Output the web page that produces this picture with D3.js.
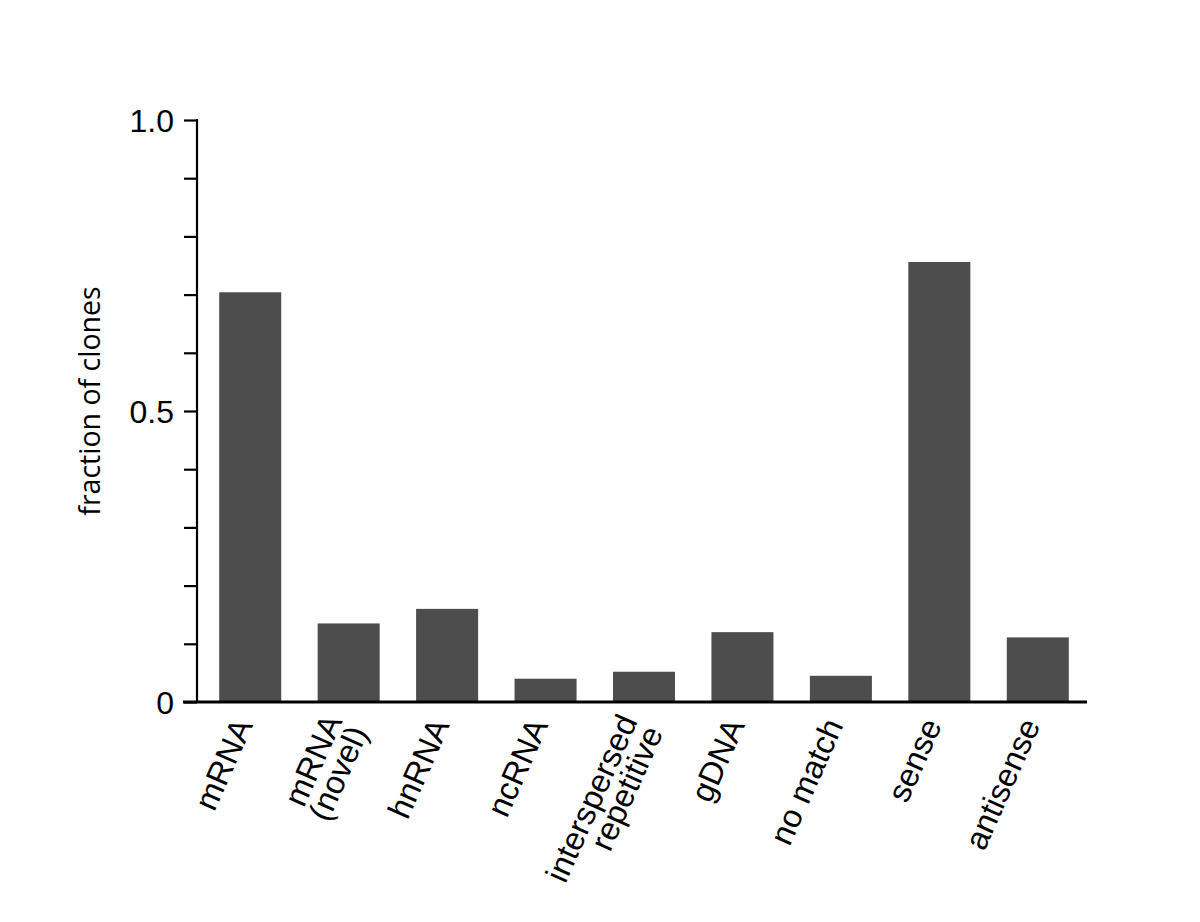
<!DOCTYPE html>
<html lang="en">
<head>
<meta charset="utf-8">
<script src="https://d3js.org/d3.v7.min.js"></script>
<style>
  body { margin: 0; background: #fff; }
</style>
</head>
<body>
<div class="chartDiv"></div>
<script>
var w = 1200;
var h = 922;

// categories (second line after "|")
var categories = ["mRNA", "mRNA|(novel)", "hnRNA", "ncRNA", "interspersed|repetitive",
                  "gDNA", "no match", "sense", "antisense"];
var fractions = [0.704, 0.135, 0.160, 0.040, 0.052, 0.120, 0.045, 0.756, 0.111];
var tickValues = [0, 0.1, 0.2, 0.3, 0.4, 0.5, 0.6, 0.7, 0.8, 0.9, 1.0];
var tickLabels = {0: "0", 0.5: "0.5", 1: "1.0"};

var svg = d3.select(".chartDiv")
            .append("svg")
            .attr("width", w)
            .attr("height", h);

var x = d3.scaleBand()
          .domain(categories)
          .range([201, 1087])
          .paddingInner(0.37)
          .paddingOuter(0.185);

var y = d3.scaleLinear()
          .domain([0, 1])
          .range([702, 120]);

// bars
svg.selectAll("rect.bar")
   .data(fractions)
   .enter().append("rect")
   .attr("class", "bar")
   .attr("x", function(d, i) { return x(categories[i]); })
   .attr("y", function(d) { return y(d); })
   .attr("width", x.bandwidth())
   .attr("height", function(d) { return y(0) - y(d); })
   .style("fill", "#4d4d4d");

// y axis
var yAxis = d3.axisLeft(y)
              .tickValues(tickValues)
              .tickSize(13)
              .tickFormat(function(d) { return tickLabels[d] || ""; });

var gy = svg.append("g")
            .attr("transform", "translate(197,0)")
            .call(yAxis);
gy.select(".domain").remove();
gy.selectAll(".tick line").attr("stroke", "#000").attr("stroke-width", 2.2);
gy.selectAll(".tick text")
  .attr("x", -23)
  .attr("dy", "0.36em")
  .style("font-family", "'Liberation Sans', Arial, sans-serif")
  .style("font-size", "32px")
  .style("fill", "#000");

svg.append("line")
   .attr("x1", 197).attr("x2", 197)
   .attr("y1", y(1) - 1).attr("y2", y(0))
   .attr("stroke", "#000").attr("stroke-width", 2.2);

// x axis line
svg.append("line")
   .attr("x1", 183).attr("x2", 1087)
   .attr("y1", y(0)).attr("y2", y(0))
   .attr("stroke", "#000").attr("stroke-width", 3);

// y label
svg.append("text")
   .attr("transform", "translate(100,401) rotate(-90)")
   .attr("text-anchor", "middle")
   .style("font-family", "'Open Sans', sans-serif")
   .style("font-size", "28.5px")
   .text("fraction of clones");

// category labels
var labels = svg.selectAll("g.xlabel")
   .data(categories)
   .enter().append("g")
   .attr("class", "xlabel")
   .attr("transform", function(d) {
     return "translate(" + (x(d) + x.bandwidth() / 2 + 3) + ",725) rotate(-66)";
   });

labels.each(function(d) {
  var lines = d.split("|");
  var g = d3.select(this);
  lines.forEach(function(t, k) {
    g.append("text")
     .attr("x", 0)
     .attr("y", (k - (lines.length - 1) * 0.35) * 28)
     .attr("text-anchor", "end")
     .style("font-family", "'Liberation Sans', Arial, sans-serif")
     .style("font-size", "32.5px")
     .text(t);
  });
});
</script>
</body>
</html>
